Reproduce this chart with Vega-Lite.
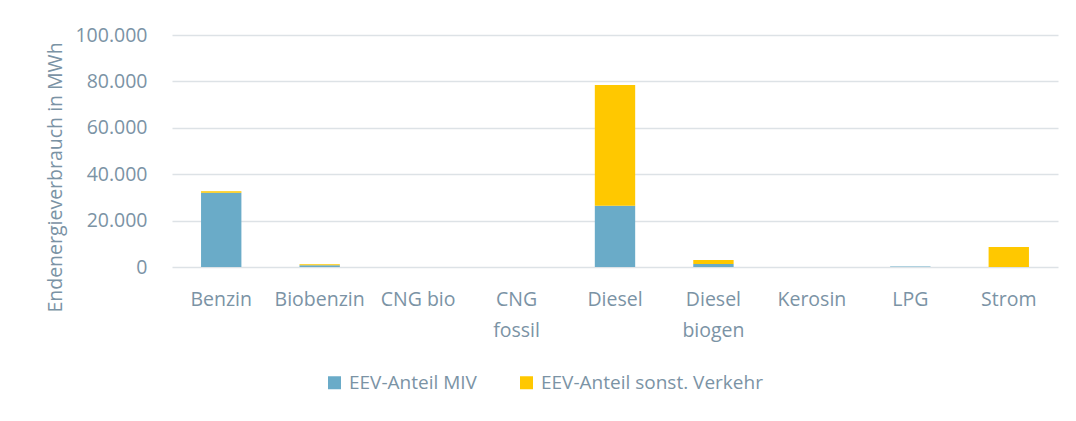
{
  "$schema": "https://vega.github.io/schema/vega-lite/v6.json",
  "width": 886,
  "height": 232,
  "autosize": {"type": "none"},
  "padding": {"left": 172, "top": 35, "right": 18, "bottom": 154},
  "background": "white",
  "data": {
    "values": [
      {"cat": "Benzin", "series": "EEV-Anteil MIV", "v": 32000},
      {"cat": "Benzin", "series": "EEV-Anteil sonst. Verkehr", "v": 700},
      {"cat": "Biobenzin", "series": "EEV-Anteil MIV", "v": 800},
      {"cat": "Biobenzin", "series": "EEV-Anteil sonst. Verkehr", "v": 400},
      {"cat": "CNG bio", "series": "EEV-Anteil MIV", "v": 0},
      {"cat": "CNG bio", "series": "EEV-Anteil sonst. Verkehr", "v": 0},
      {"cat": "CNG fossil", "series": "EEV-Anteil MIV", "v": 0},
      {"cat": "CNG fossil", "series": "EEV-Anteil sonst. Verkehr", "v": 0},
      {"cat": "Diesel", "series": "EEV-Anteil MIV", "v": 26400},
      {"cat": "Diesel", "series": "EEV-Anteil sonst. Verkehr", "v": 52000},
      {"cat": "Diesel biogen", "series": "EEV-Anteil MIV", "v": 1300},
      {"cat": "Diesel biogen", "series": "EEV-Anteil sonst. Verkehr", "v": 1700},
      {"cat": "Kerosin", "series": "EEV-Anteil MIV", "v": 0},
      {"cat": "Kerosin", "series": "EEV-Anteil sonst. Verkehr", "v": 0},
      {"cat": "LPG", "series": "EEV-Anteil MIV", "v": 200},
      {"cat": "LPG", "series": "EEV-Anteil sonst. Verkehr", "v": 0},
      {"cat": "Strom", "series": "EEV-Anteil MIV", "v": 0},
      {"cat": "Strom", "series": "EEV-Anteil sonst. Verkehr", "v": 8600}
    ]
  },
  "mark": {"type": "bar"},
  "encoding": {
    "x": {
      "field": "cat",
      "type": "nominal",
      "sort": null,
      "scale": {"paddingInner": 0.59, "paddingOuter": 0.295},
      "axis": {
        "title": null,
        "labelAngle": 0,
        "domain": false,
        "ticks": false,
        "labelPadding": 23,
        "labelFont": "Open Sans",
        "labelFontSize": 19.5,
        "labelColor": "#7B93A5",
        "labelLineHeight": 31,
        "labelLimit": 0,
        "labelExpr": "datum.value == 'CNG fossil' ? ['CNG', 'fossil'] : datum.value == 'Diesel biogen' ? ['Diesel', 'biogen'] : datum.value"
      }
    },
    "y": {
      "field": "v",
      "type": "quantitative",
      "stack": "zero",
      "scale": {"domain": [0, 100000]},
      "axis": {
        "title": "Endenergieverbrauch in MWh",
        "values": [0, 20000, 40000, 60000, 80000, 100000],
        "domain": false,
        "ticks": false,
        "labelPadding": 25,
        "labelFont": "Open Sans",
        "labelFontSize": 19.5,
        "labelColor": "#7B93A5",
        "labelExpr": "replace(format(datum.value, ','), /,/g, '.')",
        "grid": true,
        "gridColor": "#DDE2E6",
        "gridWidth": 1.5,
        "titleFont": "Open Sans",
        "titleFontSize": 19.5,
        "titleFontWeight": "normal",
        "titleColor": "#7B93A5",
        "titleX": -117,
        "titleY": 142,
        "titleAlign": "center",
        "titleBaseline": "middle",
        "titleAngle": -90,
        "titleLimit": 0
      }
    },
    "color": {
      "field": "series",
      "type": "nominal",
      "scale": {
        "domain": ["EEV-Anteil MIV", "EEV-Anteil sonst. Verkehr"],
        "range": ["#6AABC8", "#FFC800"]
      },
      "legend": {
        "title": null,
        "orient": "none",
        "direction": "horizontal",
        "legendX": 153,
        "legendY": 338,
        "symbolType": "square",
        "symbolSize": 169,
        "symbolStrokeWidth": 0,
        "labelFont": "Open Sans",
        "labelFontSize": 19,
        "labelColor": "#7B93A5",
        "labelOffset": 5,
        "labelLimit": 0,
        "columnPadding": 40
      }
    },
    "order": {"field": "series", "sort": "ascending"}
  },
  "config": {
    "view": {"stroke": null}
  }
}
